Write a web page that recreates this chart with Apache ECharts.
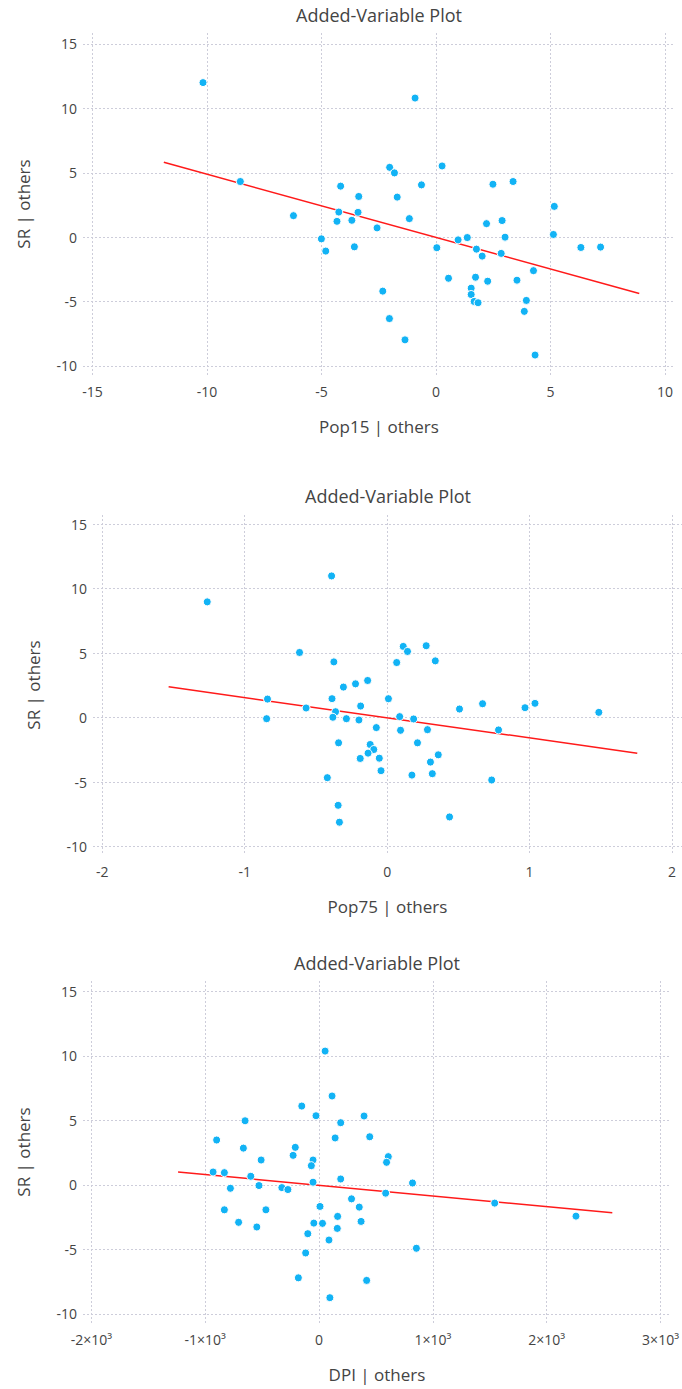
<!DOCTYPE html>
<html>
<head>
<meta charset="utf-8">
<title>Added-Variable Plots</title>
<script src="https://cdn.jsdelivr.net/npm/echarts@6/dist/echarts.min.js"></script>
<style>
  html, body { margin: 0; padding: 0; background: #fff; }
  #chart { width: 682px; height: 1389px; }
</style>
</head>
<body>
<div id="chart"></div>
<script>
// Residuals of SR against each regressor, after removing the other regressors.
const pop15X = [-10.17, -0.91, -8.54, -6.22, -5.0, -4.81, -4.16, -4.24, -4.32, -3.67,
  -3.37, -3.40, -3.56, -2.57, -2.32, -2.03, -2.02, -1.81, -1.69, -1.35,
  -1.16, -0.63, 0.04, 0.27, 0.55, 0.97, 1.37, 1.54, 1.54, 1.67,
  1.84, 1.73, 1.77, 2.02, 2.21, 2.26, 2.49, 2.85, 2.89, 3.02,
  3.37, 3.54, 3.86, 3.95, 4.26, 4.33, 5.17, 5.13, 6.33, 7.19];
const pop15Y = [12.0, 10.8, 4.32, 1.67, -0.13, -1.08, 3.96, 1.95, 1.23, 1.31,
  3.16, 1.93, -0.75, 0.72, -4.19, -6.32, 5.42, 4.99, 3.11, -7.97,
  1.44, 4.06, -0.82, 5.53, -3.19, -0.21, -0.03, -3.96, -4.45, -4.99,
  -5.09, -3.11, -0.93, -1.47, 1.05, -3.42, 4.11, -1.26, 1.29, 0.0,
  4.32, -3.34, -5.76, -4.91, -2.60, -9.15, 2.39, 0.21, -0.80, -0.77];

const pop75X = [-1.263, -0.39, -0.615, 0.113, 0.143, 0.274,
  -0.374, 0.067, 0.338, -0.307, -0.222, -0.137, -0.840, -0.387, 0.009, -0.569,
  -0.186, -0.362, -0.846, -0.381, -0.286, -0.198, 0.088, 0.186, -0.076, 0.094,
  0.283, 0.508, 0.670, 0.968, 1.038, 1.486, 0.782, -0.341, -0.119, -0.094,
  -0.134, -0.189, -0.055, -0.043, 0.213, 0.359, 0.304, 0.317, 0.174, -0.420,
  0.734, -0.344, -0.335, 0.438];
const pop75Y = [8.97, 10.98, 5.05, 5.52, 5.13, 5.57,
  4.32, 4.27, 4.40, 2.37, 2.62, 2.88, 1.44, 1.47, 1.47, 0.75,
  0.90, 0.46, -0.08, 0.03, -0.08, -0.18, 0.08, -0.10, -0.77, -0.98,
  -0.93, 0.67, 1.08, 0.77, 1.11, 0.41, -0.95, -1.95, -2.08, -2.47,
  -2.75, -3.16, -3.14, -4.11, -1.95, -2.88, -3.44, -4.34, -4.45, -4.65,
  -4.83, -6.79, -8.10, -7.69];

const dpiX = [53, 114, -152, -27, 395, -650, 190,
  -900, -665, -209, 141, 445,
  -228, -53, -68, -509, 608, 593, -931, -832, -600, -53,
  190, 821, -779, -528, -327, -274, 585, 285, 1543, 8,
  353, -832, -467, 163, 2257, -707, -547, -46, 30, 369,
  160, -99, 87, 855, -118, -182, 418, 95];
const dpiY = [10.37, 6.89, 6.11, 5.36, 5.34, 4.97, 4.82,
  3.48, 2.85, 2.91, 3.64, 3.73,
  2.29, 1.93, 1.49, 1.93, 2.19, 1.75, 1.00, 0.95, 0.67, 0.21,
  0.46, 0.15, -0.26, -0.05, -0.21, -0.36, -0.64, -1.08, -1.41, -1.67,
  -1.72, -1.93, -1.93, -2.44, -2.42, -2.90, -3.26, -2.96, -2.98, -2.83,
  -3.37, -3.78, -4.27, -4.91, -5.27, -7.20, -7.40, -8.74];

// Fitted regression lines (endpoints)
const pop15Fit = [[-11.88, 5.81], [8.88, -4.37]];
const pop75Fit = [[-1.534, 2.39], [1.756, -2.75]];
const dpiFit = [[-1239, 1.00], [2576, -2.16]];

// Tick values and labels
const yTicks = [-10, -5, 0, 5, 10, 15];
const pop15Ticks = [-15, -10, -5, 0, 5, 10];
const pop75Ticks = [-2, -1, 0, 1, 2];
const dpiTicks = [-2000, -1000, 0, 1000, 2000, 3000];
const dpiTickLabels = ['-2×10³', '-1×10³', '0', '1×10³', '2×10³', '3×10³'];

const titleText = 'Added-Variable Plot';
const yName = 'SR | others';
const xNames = ['Pop15 | others', 'Pop75 | others', 'DPI | others'];

const FONT = '"Open Sans", "DejaVu Sans", sans-serif';
const TEXT = '#444';
const GRID = '#cdcdda';
const POINT = '#12b3f5';
const FIT = '#ff1a1a';

function pairs(xs, ys) { return xs.map((x, i) => [x, ys[i]]); }

const grids = [
  { left: 83, top: 33, width: 592, height: 342 },
  { left: 93, top: 515, width: 591, height: 340 },
  { left: 83, top: 981, width: 592, height: 342 }
];

const xRanges = [[-15.41, 10.44], [-2.065, 2.07], [-2074, 3091]];
const yRanges = [[-10.70, 15.85], [-10.64, 15.70], [-10.70, 15.80]];
const xTickSets = [pop15Ticks, pop75Ticks, dpiTicks];
const titleCenters = [[379, 6], [388, 487], [377, 954]];

function splitLine() {
  return { show: true, lineStyle: { color: GRID, width: 1, type: [2, 2] } };
}

const xAxes = [0, 1, 2].map(i => ({
  type: 'value',
  gridIndex: i,
  min: xRanges[i][0],
  max: xRanges[i][1],
  name: xNames[i],
  nameLocation: 'middle',
  nameGap: 43,
  nameTextStyle: { fontFamily: FONT, fontSize: 17, color: TEXT },
  axisLine: { show: false },
  axisTick: { show: false, customValues: xTickSets[i] },
  axisLabel: {
    customValues: xTickSets[i],
    margin: 9,
    fontFamily: FONT, fontSize: 14, color: TEXT,
    formatter: i === 2
      ? (v) => dpiTickLabels[dpiTicks.indexOf(v)]
      : (v) => String(v)
  },
  splitLine: splitLine()
}));

const yAxes = [0, 1, 2].map(i => ({
  type: 'value',
  gridIndex: i,
  min: yRanges[i][0],
  max: yRanges[i][1],
  name: yName,
  nameLocation: 'middle',
  nameGap: 51,
  nameRotate: 90,
  nameTextStyle: { fontFamily: FONT, fontSize: 17, color: TEXT },
  axisLine: { show: false },
  axisTick: { show: false, customValues: yTicks },
  axisLabel: {
    customValues: yTicks,
    margin: 6,
    fontFamily: FONT, fontSize: 14, color: TEXT,
    formatter: (v) => String(v)
  },
  splitLine: splitLine()
}));

const pointSets = [pairs(pop15X, pop15Y), pairs(pop75X, pop75Y), pairs(dpiX, dpiY)];
const fits = [pop15Fit, pop75Fit, dpiFit];

const series = [];
[0, 1, 2].forEach(i => {
  series.push({
    type: 'scatter',
    xAxisIndex: i, yAxisIndex: i,
    data: pointSets[i],
    symbol: 'circle',
    symbolSize: 8,
    itemStyle: { color: POINT, borderColor: '#ffffff', borderWidth: 1, opacity: 1 },
    z: 3
  });
  series.push({
    type: 'line',
    xAxisIndex: i, yAxisIndex: i,
    data: fits[i],
    showSymbol: false,
    symbol: 'none',
    lineStyle: { color: FIT, width: 1.5 },
    z: 2
  });
});

const chart = echarts.init(document.getElementById('chart'), null, { renderer: 'svg' });
chart.setOption({
  animation: false,
  backgroundColor: '#ffffff',
  title: titleCenters.map(c => ({
    text: titleText,
    left: c[0],
    top: c[1],
    textAlign: 'center',
    padding: 0,
    textStyle: { fontFamily: FONT, fontSize: 18, fontWeight: 'normal', color: TEXT }
  })),
  grid: grids,
  xAxis: xAxes,
  yAxis: yAxes,
  series: series
});
</script>
</body>
</html>
